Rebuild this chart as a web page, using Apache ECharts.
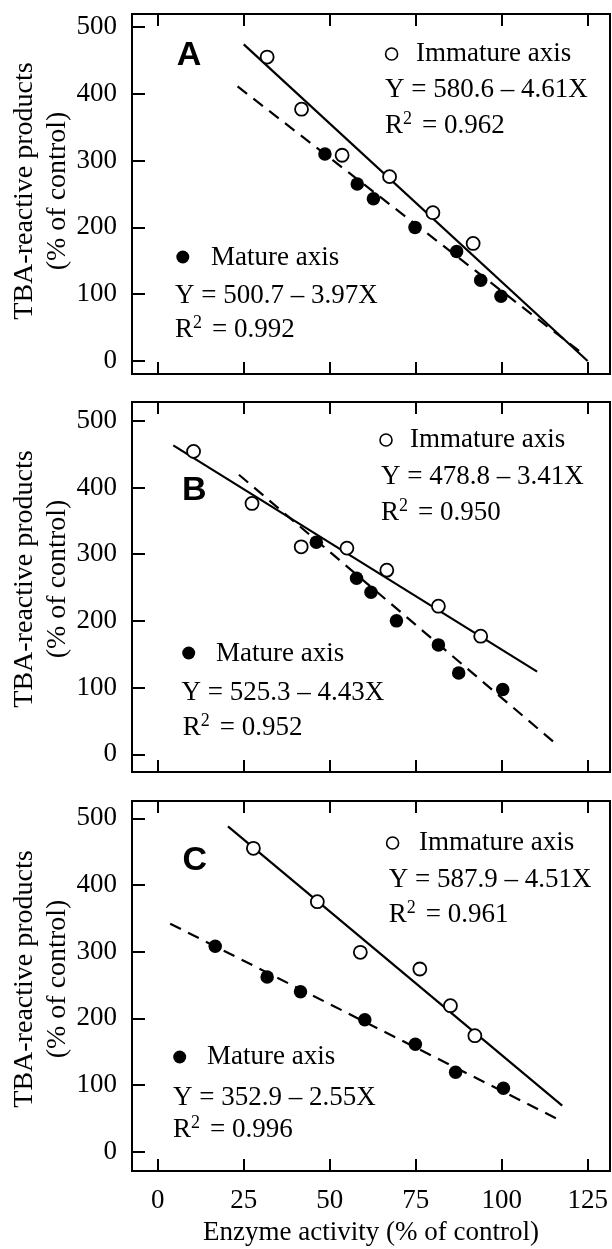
<!DOCTYPE html>
<html>
<head>
<meta charset="utf-8">
<script src="https://cdn.jsdelivr.net/npm/echarts@6/dist/echarts.min.js"></script>
<style>
  html, body { margin: 0; padding: 0; background: #fff; }
  #chart { width: 612px; height: 1249px; }
</style>
</head>
<body>
<div id="chart"></div>
<script>
// ---------- data ----------
const xTicks = [0, 25, 50, 75, 100, 125];
const yTicks = [0, 100, 200, 300, 400, 500];

const panelLetters = ['A', 'B', 'C'];
const immatureLabel = 'Immature axis';
const matureLabel = 'Mature axis';
const immatureEq = ['Y = 580.6 \u2013 4.61X', 'Y = 478.8 \u2013 3.41X', 'Y = 587.9 \u2013 4.51X'];
const immatureR2 = ['0.962', '0.950', '0.961'];
const matureEq = ['Y = 500.7 \u2013 3.97X', 'Y = 525.3 \u2013 4.43X', 'Y = 352.9 \u2013 2.55X'];
const matureR2 = ['0.992', '0.952', '0.996'];

// Panel A
const immA_x = [31.8, 41.8, 53.6, 67.4, 80.0, 91.7];
const immA_y = [455, 377, 308, 276, 222, 176];
const matA_x = [48.6, 58.0, 62.7, 74.8, 86.9, 93.9, 99.8];
const matA_y = [310, 265, 243, 200, 164, 121, 97];
const fitImmA_x = [25.0, 125.0];
const fitImmA_y = [474, 0];
const fitMatA_x = [23.2, 122.5];
const fitMatA_y = [411, 15];

// Panel B
const immB_x = [10.4, 27.4, 41.7, 55.0, 66.6, 81.6, 93.9];
const immB_y = [454, 376, 311, 309, 276, 222, 177];
const matB_x = [46.1, 57.8, 62.0, 69.4, 81.6, 87.5, 100.3];
const matB_y = [318, 264, 243, 200, 164, 122, 97];
const fitImmB_x = [4.5, 110.3];
const fitImmB_y = [463, 124];
const fitMatB_x = [23.6, 115.0];
const fitMatB_y = [419, 19];

// Panel C
const immC_x = [27.8, 46.4, 58.9, 76.2, 85.1, 92.2];
const immC_y = [455, 375, 299, 274, 219, 174];
const matC_x = [16.7, 31.8, 41.5, 60.2, 74.9, 86.6, 100.5];
const matC_y = [308, 262, 240, 198, 161, 119, 95];
const fitImmC_x = [20.4, 117.6];
const fitImmC_y = [488, 69];
const fitMatC_x = [3.6, 116.2];
const fitMatC_y = [342, 49];

const yTitle = 'TBA-reactive products\n(% of control)';
const xTitle = 'Enzyme activity (% of control)';

// ---------- layout ----------
const zip = (xs, ys) => xs.map((x, i) => [x, ys[i]]);
const SERIF = '"Liberation Serif", "Times New Roman", serif';
const SANS = '"Liberation Sans", Arial, sans-serif';
const FS = 27;

const panels = [
  { top: 14,  height: 360, ymin: -19.5, ymax: 519.5,
    imm: zip(immA_x, immA_y), mat: zip(matA_x, matA_y),
    fitImm: zip(fitImmA_x, fitImmA_y), fitMat: zip(fitMatA_x, fitMatA_y),
    letter: [189, 56], immMk: [391.6, 54], immTx: [416, 54], immEq: [385, 90], immR2: [385, 126],
    matMk: [182.8, 257], matTx: [211, 258], matEq: [175, 296], matR2: [175, 330], yTitleY: 191 },
  { top: 402, height: 370, ymin: -26.5, ymax: 528,
    imm: zip(immB_x, immB_y), mat: zip(matB_x, matB_y),
    fitImm: zip(fitImmB_x, fitImmB_y), fitMat: zip(fitMatB_x, fitMatB_y),
    letter: [194.3, 491], immMk: [386, 440], immTx: [410, 440], immEq: [381, 477], immR2: [381, 513],
    matMk: [188.7, 653], matTx: [216, 654], matEq: [181.6, 693], matR2: [182.8, 728], yTitleY: 579 },
  { top: 801, height: 370, ymin: -29, ymax: 526,
    imm: zip(immC_x, immC_y), mat: zip(matC_x, matC_y),
    fitImm: zip(fitImmC_x, fitImmC_y), fitMat: zip(fitMatC_x, fitMatC_y),
    letter: [194.7, 861], immMk: [392.6, 843], immTx: [419, 843], immEq: [388.7, 880], immR2: [388.7, 915],
    matMk: [179.7, 1057], matTx: [207, 1057], matEq: [173, 1098], matR2: [173, 1130], yTitleY: 979 }
];

const grid = [], xAxis = [], yAxis = [], series = [], graphic = [];

panels.forEach((p, i) => {
  grid.push({ left: 132, top: p.top, width: 478, height: p.height, show: true,
              borderColor: '#000', borderWidth: 2, backgroundColor: 'transparent' });
  const tickStyle = { show: true, inside: true, length: 12, customValues: xTicks,
                      lineStyle: { color: '#000', width: 2 } };
  xAxis.push({ gridIndex: i, type: 'value', min: -7.5, max: 131.5, position: 'bottom',
    axisLine: { show: false, onZero: false }, splitLine: { show: false },
    axisTick: tickStyle,
    axisLabel: { show: i === 2, customValues: xTicks, margin: 16, fontSize: FS,
                 fontFamily: SERIF, color: '#000' } });
  xAxis.push({ gridIndex: i, type: 'value', min: -7.5, max: 131.5, position: 'top',
    axisLine: { show: false, onZero: false }, splitLine: { show: false },
    axisTick: tickStyle, axisLabel: { show: false } });
  yAxis.push({ gridIndex: i, type: 'value', min: p.ymin, max: p.ymax, position: 'left',
    axisLine: { show: false, onZero: false }, splitLine: { show: false },
    axisTick: { show: true, inside: true, length: 13, customValues: yTicks,
                lineStyle: { color: '#000', width: 2 } },
    axisLabel: { customValues: yTicks, margin: 15, fontSize: FS, fontFamily: SERIF, color: '#000' } });

  series.push({ type: 'line', xAxisIndex: 2 * i, yAxisIndex: i, data: p.fitImm,
    symbol: 'none', silent: true, z: 2, lineStyle: { color: '#000', width: 2.2 } });
  series.push({ type: 'line', xAxisIndex: 2 * i, yAxisIndex: i, data: p.fitMat,
    symbol: 'none', silent: true, z: 2, lineStyle: { color: '#000', width: 2.2, type: [12, 8] } });
  series.push({ type: 'scatter', xAxisIndex: 2 * i, yAxisIndex: i, data: p.imm,
    symbol: 'circle', symbolSize: 13, z: 3,
    itemStyle: { color: '#fff', borderColor: '#000', borderWidth: 1.8, opacity: 1 } });
  series.push({ type: 'scatter', xAxisIndex: 2 * i, yAxisIndex: i, data: p.mat,
    symbol: 'circle', symbolSize: 13.5, z: 4, itemStyle: { color: '#000', opacity: 1 } });

  const txt = (pos, text, font) => ({ type: 'text', x: pos[0], y: pos[1], z: 10,
    style: { text: text, font: font || (FS + 'px ' + SERIF), fill: '#000', align: 'left', verticalAlign: 'middle' } });
  const r2txt = (pos, val) => {
    graphic.push(txt(pos, 'R'));
    graphic.push(txt([pos[0] + 18, pos[1] - 7], '2', '18px ' + SERIF));
    graphic.push(txt([pos[0] + 37, pos[1]], '= ' + val));
  };

  graphic.push({ type: 'text', x: p.letter[0], y: p.letter[1], z: 10,
    style: { text: panelLetters[i], font: 'bold 34px ' + SANS, fill: '#000', align: 'center', verticalAlign: 'middle' } });
  graphic.push({ type: 'circle', shape: { cx: p.immMk[0], cy: p.immMk[1], r: 6 }, z: 10,
    style: { fill: '#fff', stroke: '#000', lineWidth: 1.6 } });
  graphic.push(txt(p.immTx, immatureLabel));
  graphic.push(txt(p.immEq, immatureEq[i]));
  r2txt(p.immR2, immatureR2[i]);
  graphic.push({ type: 'circle', shape: { cx: p.matMk[0], cy: p.matMk[1], r: 6.5 }, z: 10,
    style: { fill: '#000' } });
  graphic.push(txt(p.matTx, matureLabel));
  graphic.push(txt(p.matEq, matureEq[i]));
  r2txt(p.matR2, matureR2[i]);

  graphic.push({ type: 'text', x: 41, y: p.yTitleY, rotation: Math.PI / 2, z: 10,
    style: { text: yTitle, font: '28px ' + SERIF, fill: '#000', align: 'center',
             verticalAlign: 'middle', lineHeight: 33 } });
});

graphic.push({ type: 'text', x: 371, y: 1233, z: 10,
  style: { text: xTitle, font: FS + 'px ' + SERIF, fill: '#000', align: 'center', verticalAlign: 'middle' } });

const chart = echarts.init(document.getElementById('chart'), null, { renderer: 'canvas' });
chart.setOption({
  animation: false,
  backgroundColor: '#fff',
  grid: grid,
  xAxis: xAxis,
  yAxis: yAxis,
  series: series,
  graphic: graphic
});
</script>
</body>
</html>
